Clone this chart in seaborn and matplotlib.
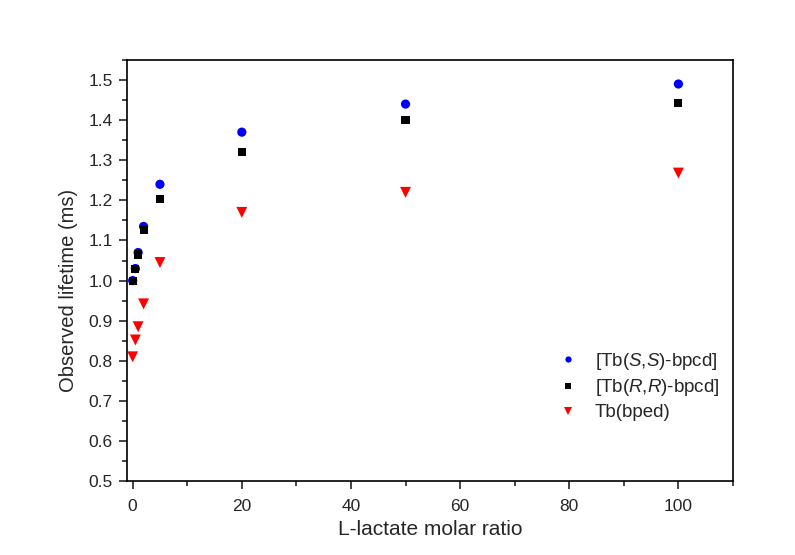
import matplotlib
matplotlib.use("Agg")
import matplotlib.pyplot as plt
import seaborn as sns
import pandas as pd
from matplotlib.ticker import MultipleLocator, FormatStrFormatter

ratio = [0, 0.5, 1, 2, 5, 20, 50, 100]
ss_vals = [1.00, 1.03, 1.07, 1.135, 1.24, 1.37, 1.44, 1.49]
rr_vals = [1.00, 1.03, 1.065, 1.125, 1.203, 1.32, 1.40, 1.443]
bped_vals = [0.81, 0.852, 0.885, 0.942, 1.045, 1.17, 1.22, 1.268]
series_labels = [r"[Tb($\mathit{S}$,$\mathit{S}$)-bpcd]",
                 r"[Tb($\mathit{R}$,$\mathit{R}$)-bpcd]",
                 "Tb(bped)"]

sns.set_style("ticks")
plt.rcParams["font.family"] = ["Liberation Sans", "DejaVu Sans"]
plt.rcParams["mathtext.fontset"] = "custom"
plt.rcParams["mathtext.rm"] = "Liberation Sans"
plt.rcParams["mathtext.it"] = "Liberation Sans:italic"

rows = []
for lab, vals in zip(series_labels, [ss_vals, rr_vals, bped_vals]):
    for x, y in zip(ratio, vals):
        rows.append({"ratio": x, "lifetime": y, "series": lab})
df = pd.DataFrame(rows)

fig = plt.figure(figsize=(7.95, 5.55), dpi=100)
ax = fig.add_axes([0.16, 0.133, 0.762, 0.759])

palette = {series_labels[0]: "#0000ff", series_labels[1]: "#000000", series_labels[2]: "#ff0000"}
markers = {series_labels[0]: "o", series_labels[1]: "s", series_labels[2]: "v"}
sizes = {series_labels[0]: 44, series_labels[1]: 34, series_labels[2]: 62}
sns.scatterplot(data=df, x="ratio", y="lifetime", hue="series", style="series", size="series",
                palette=palette, markers=markers, sizes=sizes, linewidth=0, ax=ax)

ax.set_xlim(-1, 110)
ax.set_ylim(0.5, 1.55)
ax.xaxis.set_major_locator(MultipleLocator(20))
ax.xaxis.set_minor_locator(MultipleLocator(10))
ax.yaxis.set_major_locator(MultipleLocator(0.1))
ax.yaxis.set_minor_locator(MultipleLocator(0.05))
ax.yaxis.set_major_formatter(FormatStrFormatter("%.1f"))
ax.tick_params(which="major", direction="out", length=6, width=1.2, labelsize=12.5, top=False, right=False)
ax.tick_params(which="minor", direction="out", length=3.5, width=1.2, top=False, right=False)
ax.tick_params(axis="x", which="major", pad=6.5)
ax.tick_params(axis="y", which="major", pad=4.5)
for sp in ax.spines.values():
    sp.set_visible(True)
    sp.set_linewidth(1.2)
    sp.set_color("black")

ax.set_xlabel("L-lactate molar ratio", fontsize=15)
ax.set_ylabel("Observed lifetime (ms)", fontsize=14.5)
ax.xaxis.set_label_coords(0.5, -0.093)
ax.yaxis.set_label_coords(-0.081, 0.454)

handles, labels = ax.get_legend_handles_labels()
leg = ax.legend(handles, labels, loc="center left", bbox_to_anchor=(0.685, 0.226), borderaxespad=0,
                frameon=False, fontsize=13.5, handletextpad=0.4, labelspacing=0.3, markerscale=0.68)

fig.savefig("out.png", dpi=100, facecolor="white")
